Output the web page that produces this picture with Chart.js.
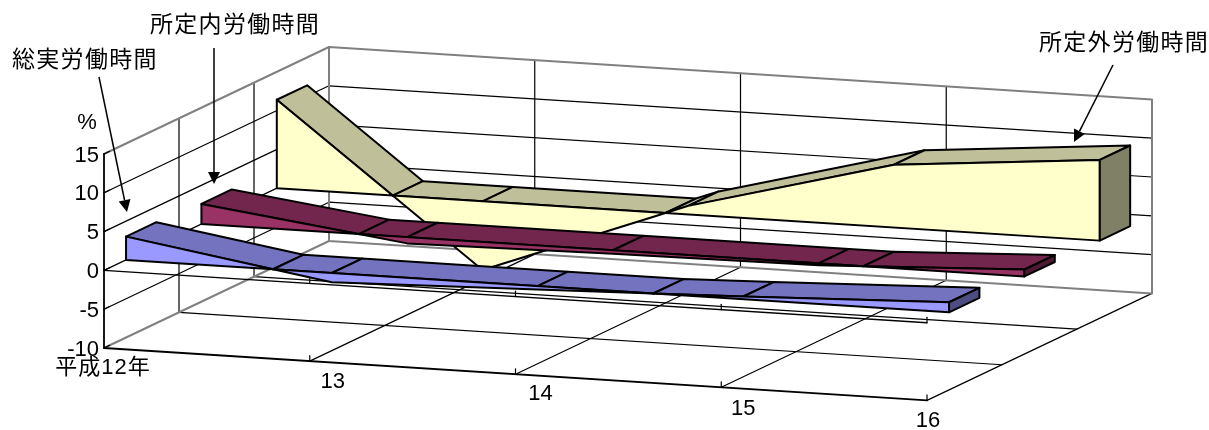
<!DOCTYPE html>
<html lang="ja">
<head>
<meta charset="utf-8">
<title>労働時間の推移</title>
<script src="https://cdn.jsdelivr.net/npm/chart.js@4"></script>
<style>
html,body{margin:0;padding:0;background:#fff;overflow:hidden}
#wrap{position:relative;width:1209px;height:430px}
canvas{display:block}
</style>
</head>
<body>
<div id="wrap"><canvas id="c" width="1209" height="430"></canvas></div>
<script>
// ---- data ----
const categories = ['平成12年', '13', '14', '15', '16'];
const years = [12, 13, 14, 15, 16];
const totalHours = [3.0, -1.2, -0.45, 0.35, 1.3];      // 総実労働時間
const scheduledHours = [2.6, -0.8, -0.45, -0.25, 0.9]; // 所定内労働時間
const overtimeHours = [11.4, -8.85, 1.1, 8.1, 10.4];   // 所定外労働時間
const valueTicks = [15, 10, 5, 0, -5, -10];
const unitLabel = '%';
const seriesNames = ['総実労働時間', '所定内労働時間', '所定外労働時間'];

// ---- geometry of the oblique 3D box (screen pixels per data unit) ----
const PX_PER_YEAR = 205.75, PX_PER_VALUE = 7.76;
const YEAR_DROP = 13.1, DEPTH_DX = 225, DEPTH_RISE = 107;
const ORIGIN_X = 104, ZERO_Y = 270.4;
const W = 1209, H = 430;
const xMin = 12 - ORIGIN_X / PX_PER_YEAR, xMax = 12 + (W - ORIGIN_X) / PX_PER_YEAR;
const yMax = ZERO_Y / PX_PER_VALUE, yMin = -(H - ZERO_Y) / PX_PER_VALUE;
const vLow = valueTicks[valueTicks.length - 1], vHigh = valueTicks[0];
const yFirst = years[0], yLast = years[years.length - 1];

function P(year, depth, value) {
  return {
    x: year + depth * DEPTH_DX / PX_PER_YEAR,
    y: value + (-(year - 12) * YEAR_DROP + depth * DEPTH_RISE) / PX_PER_VALUE
  };
}

const datasets = [];
function add(points, o) {
  datasets.push({
    data: points,
    showLine: true,
    borderColor: o.stroke || '#000',
    borderWidth: o.width || 1,
    backgroundColor: o.fill || 'transparent',
    fill: o.fill ? 'shape' : false,
    pointRadius: 0,
    pointHoverRadius: 0,
    borderJoinStyle: 'round',
    borderCapStyle: 'round',
    borderDash: [6000, 0],
    order: -datasets.length
  });
}

// ---- walls, floor, gridlines ----
const GRAY = '#808080';
[-5, 0, 5, 10].forEach(v => add([P(yFirst, 0, v), P(yFirst, 1, v), P(yLast, 1, v)], {width: 1.2}));
[1 / 3, 2 / 3].forEach(d => {
  add([P(yFirst, d, vHigh), P(yFirst, d, vLow), P(yLast, d, vLow)], {width: 1.2});
});
years.slice(1, -1).forEach(y => {
  add([P(y, 1, vHigh), P(y, 1, vLow)], {width: 1.2});
  add([P(y, 0, vLow), P(y, 1, vLow)], {width: 1.2});
});
add([P(yLast, 0, vLow), P(yLast, 1, vLow)], {width: 1.2});
add([P(yFirst, 1, vLow), P(yLast, 1, vLow), P(yLast, 1, vHigh), P(yFirst, 1, vHigh), P(yFirst, 1, vLow)], {stroke: GRAY, width: 2});
add([P(yFirst, 0, vHigh), P(yFirst, 1, vHigh)], {stroke: GRAY, width: 2});
add([P(yFirst, 0, vLow), P(yFirst, 1, vLow)], {stroke: GRAY, width: 2});
// axes
add([P(yFirst, 0, vHigh), P(yFirst, 0, vLow), P(yLast, 0, vLow)], {width: 1.8});
add([P(yFirst, 0, 0), P(yLast, 0, 0)], {width: 1.4});
valueTicks.forEach(v => add([P(yFirst, 0, v), P(yFirst, 0.025, v)], {width: 1.2}));
years.slice(1).forEach(y => {
  add([P(y, 0, vLow), P(y, 0, vLow + 0.7)], {width: 1.2});
  add([P(y, 0, 0), P(y, 0, 0.7)], {width: 1.2});
});

// ---- one 3D area ribbon ----
function ribbon(values, front, width, cFront, cTop, cSide) {
  const pts = [];
  values.forEach((v, i) => {
    pts.push({t: years[i], v, node: true});
    if (i < values.length - 1 && v * values[i + 1] < 0) {
      pts.push({t: years[i] + v / (v - values[i + 1]), v: 0});
    }
  });
  const top = v => Math.max(v, 0);
  const back = front + width;
  for (let i = 0; i < pts.length - 1; i++) {
    const a = pts[i], b = pts[i + 1];
    add([P(a.t, front, top(a.v)), P(b.t, front, top(b.v)), P(b.t, back, top(b.v)), P(a.t, back, top(a.v)), P(a.t, front, top(a.v))],
        {fill: cTop, width: 2});
  }
  let run = [pts[0]];
  const flush = () => {
    const poly = run.map(p => P(p.t, front, p.v));
    const baseEnd = P(run[run.length - 1].t, front, 0), baseStart = P(run[0].t, front, 0);
    add([...poly, baseEnd, baseStart, poly[0]], {fill: cFront, width: 2});
  };
  for (let i = 1; i < pts.length; i++) {
    run.push(pts[i]);
    if (pts[i].v === 0 && i < pts.length - 1) { flush(); run = [pts[i]]; }
  }
  flush();
  const e = values[values.length - 1];
  add([P(yLast, front, 0), P(yLast, front, e), P(yLast, back, e), P(yLast, back, 0), P(yLast, front, 0)], {fill: cSide, width: 2});
}
const RW = 0.135;
ribbon(overtimeHours, 0.768, RW, '#FFFFCC', '#BFBF99', '#808066');
ribbon(scheduledHours, 0.433, RW, '#993366', '#73264D', '#4D1933');
ribbon(totalHours, 0.098, RW, '#9999FF', '#7373BF', '#4D4D80');

// ---- text and arrows ----
const FONT = '"Liberation Sans","Noto Sans CJK JP",sans-serif';
const catLabelOffsets = [[-1, 20], [23, 21], [25, 20], [22, 22], [1, 21]]; // px from the floor tick
const catLabelSpacing = ['1px', '0px', '0px', '0px', '0px'];
const seriesLabelPos = [[12, 61], [150, 26], [1039, 44]];
const arrows = [[[99, 77], [127, 212]], [[214, 48], [214, 184]], [[1113, 65], [1074, 142]]];

const textPlugin = {
  id: 'textPlugin',
  afterDatasetsDraw(chart) {
    const {ctx, scales: {x, y}} = chart;
    ctx.save();
    ctx.fillStyle = '#000';
    ctx.textBaseline = 'middle';
    ctx.font = '22px ' + FONT;
    ctx.textAlign = 'center';
    categories.forEach((c, i) => {
      const p = P(years[i], 0, vLow);
      ctx.letterSpacing = catLabelSpacing[i];
      ctx.fillText(c, x.getPixelForValue(p.x) + catLabelOffsets[i][0], y.getPixelForValue(p.y) + catLabelOffsets[i][1]);
    });
    ctx.letterSpacing = '0px';
    ctx.fillText(unitLabel, 87, 123);
    ctx.textAlign = 'left';
    ctx.font = '23px ' + FONT;
    ctx.letterSpacing = '1.3px';
    seriesNames.forEach((s, i) => ctx.fillText(s, seriesLabelPos[i][0], seriesLabelPos[i][1]));
    ctx.letterSpacing = '0px';
    ctx.strokeStyle = '#000';
    ctx.lineWidth = 1.5;
    arrows.forEach(([a, b]) => {
      const ang = Math.atan2(b[1] - a[1], b[0] - a[0]);
      const L = 12, HW = 6;
      ctx.beginPath();
      ctx.moveTo(a[0], a[1]);
      ctx.lineTo(b[0] - L * Math.cos(ang), b[1] - L * Math.sin(ang));
      ctx.stroke();
      ctx.beginPath();
      ctx.moveTo(b[0], b[1]);
      const bx = b[0] - L * Math.cos(ang), by = b[1] - L * Math.sin(ang);
      ctx.lineTo(bx - HW * Math.sin(ang), by + HW * Math.cos(ang));
      ctx.lineTo(bx + HW * Math.sin(ang), by - HW * Math.cos(ang));
      ctx.closePath();
      ctx.fill();
    });
    ctx.restore();
  }
};

new Chart(document.getElementById('c'), {
  type: 'scatter',
  data: {datasets},
  plugins: [textPlugin],
  options: {
    responsive: false,
    animation: false,
    layout: {padding: 0, autoPadding: false},
    plugins: {legend: {display: false}, tooltip: {enabled: false}},
    events: [],
    scales: {
      x: {type: 'linear', min: xMin, max: xMax, display: false},
      y: {
        type: 'linear', min: yMin, max: yMax,
        position: {x: 12 - 5 / PX_PER_YEAR},
        grid: {display: false, drawTicks: false},
        border: {display: false},
        afterBuildTicks: s => { s.ticks = valueTicks.map(v => ({value: v})); },
        afterFit: s => { s.top = 0; s.bottom = H; s.height = H; s.paddingTop = 0; s.paddingBottom = 0; },
        ticks: {
          color: '#000', autoSkip: false, padding: 0, maxRotation: 0, labelOffset: 1.5,
          font: {family: FONT, size: 22}
        }
      }
    }
  }
});
</script>
</body>
</html>
